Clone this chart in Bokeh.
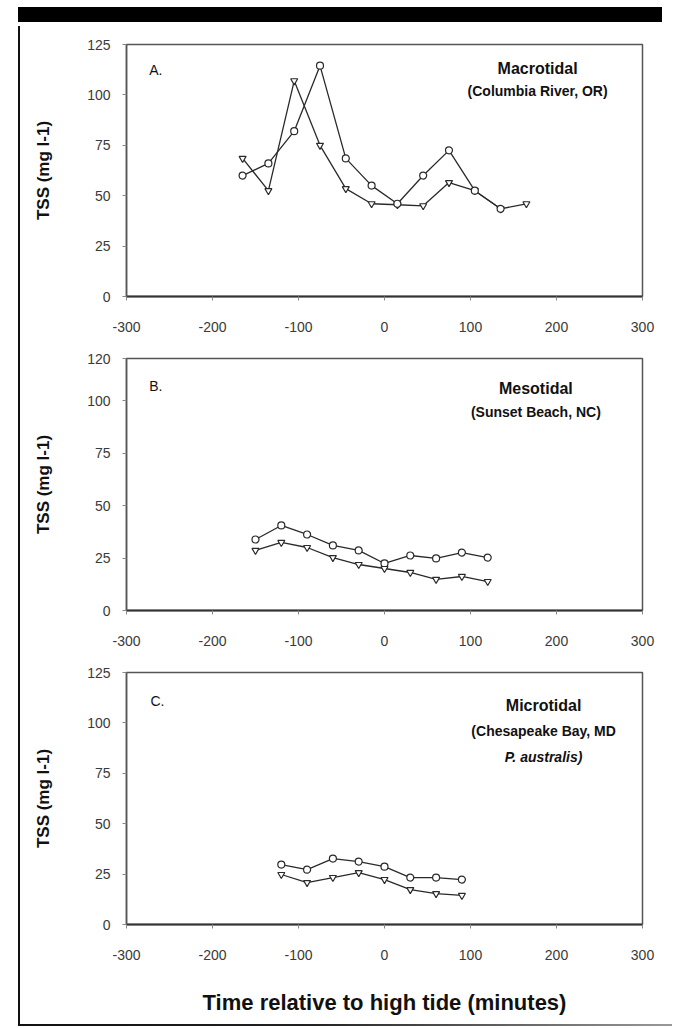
from bokeh.plotting import figure
from bokeh.models import Range1d, FixedTicker, Label, Div
from bokeh.layouts import column, row
from bokeh.embed import file_html
from bokeh.resources import INLINE

# ---------------- data ----------------
x_ticks = [-300, -200, -100, 0, 100, 200, 300]
y_ticks_ac = [0, 25, 50, 75, 100, 125]
y_ticks_b = [0, 25, 50, 75, 100, 120]

# Panel A: Macrotidal (Columbia River, OR)
a_time_1 = [-165, -135, -105, -75, -45, -15, 15, 45, 75, 105, 135, 165]
a_tss_1 = [68.5, 52.5, 107, 75, 53.5, 46, 45.5, 45, 56.5, 52.5, 43.5, 46]
a_time_2 = [-165, -135, -105, -75, -45, -15, 15, 45, 75, 105, 135]
a_tss_2 = [60, 66, 82, 114.5, 68.5, 55, 46, 60, 72.5, 52.5, 43.5]

# Panel B: Mesotidal (Sunset Beach, NC)
b_time = [-150, -120, -90, -60, -30, 0, 30, 60, 90, 120]
b_tss_1 = [33.8, 40.5, 36.2, 31, 28.6, 22.4, 26.2, 24.8, 27.6, 25.2]
b_tss_2 = [28.6, 32.4, 30, 25.2, 21.9, 20, 18.1, 14.8, 16.2, 13.8]

# Panel C: Microtidal (Chesapeake Bay, MD, P. australis)
c_time = [-120, -90, -60, -30, 0, 30, 60, 90]
c_tss_1 = [29.7, 27.2, 32.7, 31.2, 28.7, 23.3, 23.3, 22.3]
c_tss_2 = [24.8, 20.8, 23.3, 25.7, 22.3, 17.3, 15.3, 14.4]

y_title = "TSS (mg l-1)"
x_title = "Time relative to high tide (minutes)"

FONT = "Liberation Sans"
INK = "#2a2a2a"


def make_panel(height, y_end, y_ticks, bottom, xlabel=None):
    p = figure(width=652, height=height, output_backend="svg", toolbar_location=None,
               x_range=Range1d(-300, 300), y_range=Range1d(0, y_end),
               min_border_left=106, min_border_right=30, min_border_top=18,
               min_border_bottom=bottom)
    p.background_fill_color = "white"
    p.border_fill_color = "white"
    p.xgrid.visible = False
    p.ygrid.visible = False
    p.outline_line_color = "#555555"
    p.outline_line_width = 1.5

    xa = p.xaxis[0]
    xa.ticker = FixedTicker(ticks=x_ticks)
    xa.major_label_overrides = {t: str(t) for t in x_ticks}
    xa.axis_line_color = "#333333"
    xa.axis_line_width = 2
    xa.major_tick_in = 0
    xa.major_tick_out = 4
    xa.major_tick_line_color = "#888888"
    xa.minor_tick_line_color = None
    xa.major_label_standoff = 21
    xa.major_label_text_font = FONT
    xa.major_label_text_font_size = "14px"
    xa.major_label_text_color = "#3a3a3a"
    if xlabel:
        xa.axis_label = xlabel
        xa.axis_label_text_font = FONT
        xa.axis_label_text_font_style = "bold"
        xa.axis_label_text_font_size = "22px"
        xa.axis_label_text_color = "#111111"
        xa.axis_label_standoff = 27

    ya = p.yaxis[0]
    ya.ticker = FixedTicker(ticks=y_ticks)
    ya.major_label_overrides = {t: str(t) for t in y_ticks}
    ya.axis_line_color = "#555555"
    ya.axis_line_width = 1.5
    ya.major_tick_in = 0
    ya.major_tick_out = 4
    ya.major_tick_line_color = "#888888"
    ya.minor_tick_line_color = None
    ya.major_label_standoff = 12
    ya.major_label_text_font = FONT
    ya.major_label_text_font_size = "14px"
    ya.major_label_text_color = "#3a3a3a"
    ya.axis_label = y_title
    ya.axis_label_text_font = FONT
    ya.axis_label_text_font_style = "bold"
    ya.axis_label_text_font_size = "17px"
    ya.axis_label_text_color = "#111111"
    ya.axis_label_standoff = 31
    return p


def add_series(p, xs, ys, marker):
    p.line(xs, ys, line_color=INK, line_width=1.3)
    p.scatter(xs, ys, marker=marker, size=7, fill_color="white",
              line_color=INK, line_width=1.2)


def add_text(p, x, y, text, size, style="bold", align="center"):
    p.add_layout(Label(x=x, y=y, text=text, text_font=FONT, text_font_size=size,
                       text_font_style=style, text_color="#111111",
                       text_align=align, text_baseline="middle"))


# Panel A
pa = make_panel(314, 125, y_ticks_ac, 44)
add_series(pa, a_time_1, a_tss_1, "inverted_triangle")
add_series(pa, a_time_2, a_tss_2, "circle")
add_text(pa, -266, 112.5, "A.", "14px", "normal")
add_text(pa, 178, 113, "Macrotidal", "16px")
add_text(pa, 178, 101.7, "(Columbia River, OR)", "14px")

# Panel B
pb = make_panel(314, 120, y_ticks_b, 44)
add_series(pb, b_time, b_tss_1, "circle")
add_series(pb, b_time, b_tss_2, "inverted_triangle")
add_text(pb, -266, 107, "B.", "14px", "normal")
add_text(pb, 176, 105.5, "Mesotidal", "16px")
add_text(pb, 176, 94.3, "(Sunset Beach, NC)", "14px")

# Panel C
pc = make_panel(370, 125, y_ticks_ac, 100, xlabel=x_title)
add_series(pc, c_time, c_tss_1, "circle")
add_series(pc, c_time, c_tss_2, "inverted_triangle")
add_text(pc, -264, 111, "C.", "14px", "normal")
add_text(pc, 185, 108.6, "Microtidal", "16px")
add_text(pc, 185, 96.2, "(Chesapeake Bay, MD", "14px")
add_text(pc, 185, 83.3, "P. australis)", "14px", "bold italic")

# scan decorations: top bar, left rule, bottom rule
top_bar = Div(text="", width=644, height=15, margin=(7, 0, 4, 18),
              styles={"background-color": "#000000"})
left_rule = Div(text="", width=2, height=998, margin=(0, 0, 0, 18),
                styles={"background-color": "#111111"})
bottom_rule = Div(text="", width=654, height=2, margin=(0, 0, 0, 18),
                  styles={"background": "linear-gradient(to right, #111 0%, #222 45%, #999 100%)"})

layout = column(top_bar, row(left_rule, column(pa, pb, pc)), bottom_rule)

open("out.html", "w").write(file_html(layout, INLINE))
